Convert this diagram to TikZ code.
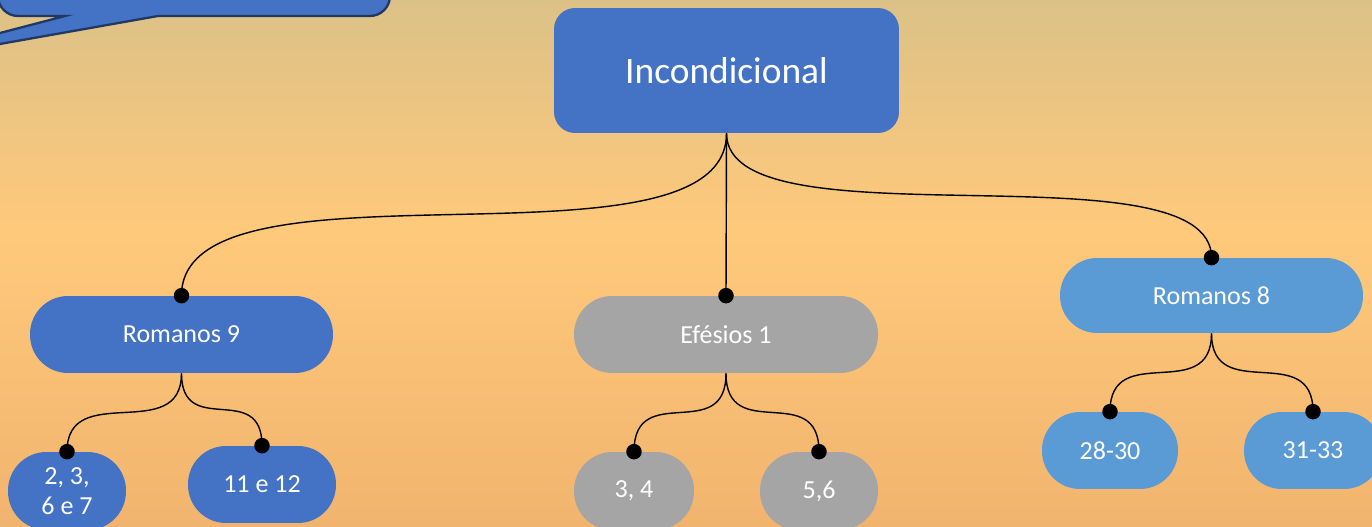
\documentclass[tikz,border=0pt]{standalone}
\usepackage{fontspec}
\setmainfont{Carlito}
\definecolor{bgtop}{HTML}{DCC187}
\definecolor{bgmid}{HTML}{FFC97B}
\definecolor{bgbot}{HTML}{F1B46E}
\definecolor{dblue}{HTML}{4472C4}
\definecolor{lblue}{HTML}{5B9BD5}
\definecolor{gbox}{HTML}{A5A5A5}
\definecolor{navy}{HTML}{1F3864}
\pgfdeclareverticalshading{bgshade}{100bp}{color(0bp)=(bgbot); color(25bp)=(bgbot); color(53bp)=(bgmid); color(75bp)=(bgtop); color(100bp)=(bgtop)}
\begin{document}
\begin{tikzpicture}[x=0.02cm,y=-0.02cm,
  pill/.style={text=white, inner sep=0pt, align=center, font=\fontsize{14.8}{17}\selectfont},
  conn/.style={draw=black, line width=0.8pt},
  dot/.style={fill=black}]
\useasboundingbox (0,0) rectangle (1372,527);
\shade[shading=bgshade] (0,0) rectangle (1372,527);
% callout
\draw[fill=dblue, draw=navy, line width=1.3pt, line join=miter]
  (-2,-60) -- (390,-60) -- (390,-4) .. controls (390,7) and (381,16) .. (370,16)
  -- (158,16) -- (-130,67) -- (65,16) -- (18,16) .. controls (7,16) and (-2,7) .. (-2,-4) -- cycle;
% nodes
\node[pill, fill=dblue, minimum width=6.9cm, minimum height=2.5cm, rounded corners=0.42cm,
      font=\fontsize{21.3}{25}\selectfont] (inc) at (726.5,70.5) {Incondicional};
\node[pill, fill=dblue, minimum width=6.06cm, minimum height=1.54cm, rounded corners=0.76cm] (r9) at (181.5,334.5) {Romanos 9};
\node[pill, fill=gbox, minimum width=6.08cm, minimum height=1.54cm, rounded corners=0.76cm] (ef) at (726,334.5) {Efésios 1};
\node[pill, fill=lblue, minimum width=6.06cm, minimum height=1.5cm, rounded corners=0.74cm] (r8) at (1211.5,295.5) {Romanos 8};
\node[pill, fill=dblue, minimum width=2.36cm, minimum height=1.56cm, rounded corners=0.77cm] (a1) at (67,491) {2, 3,\\6 e 7};
\node[pill, fill=dblue, minimum width=2.96cm, minimum height=1.54cm, rounded corners=0.76cm] (a2) at (262,484.5) {11 e 12};
\node[pill, fill=gbox, minimum width=2.4cm, minimum height=1.56cm, rounded corners=0.77cm] (b1) at (634,491) {3, 4};
\node[pill, fill=gbox, minimum width=2.36cm, minimum height=1.56cm, rounded corners=0.77cm] (b2) at (819,491) {5,6};
\node[pill, fill=lblue, minimum width=2.72cm, minimum height=1.54cm, rounded corners=0.76cm] (c1) at (1110,450.5) {28-30};
\node[pill, fill=lblue, minimum width=2.76cm, minimum height=1.54cm, rounded corners=0.76cm] (c2) at (1313,450.5) {31-33};
% connectors
\draw[conn] (inc.south) .. controls +(0,150) and +(0,-150) .. (r9.north);
\draw[conn] (inc.south) -- (ef.north);
\draw[conn] (inc.south) .. controls +(0,115) and +(0,-115) .. (r8.north);
\draw[conn] (r9.south) .. controls +(0,72) and +(0,-72) .. (a1.north);
\draw[conn] (r9.south) .. controls +(0,66) and +(0,-66) .. (a2.north);
\draw[conn] (ef.south) .. controls +(0,72) and +(0,-72) .. (b1.north);
\draw[conn] (ef.south) .. controls +(0,72) and +(0,-72) .. (b2.north);
\draw[conn] (r8.south) .. controls +(0,72) and +(0,-72) .. (c1.north);
\draw[conn] (r8.south) .. controls +(0,72) and +(0,-72) .. (c2.north);
% dots
\foreach \n in {r9,ef,r8,a1,a2,b1,b2,c1,c2}
  \fill[dot] (\n.north) circle[radius=0.155cm];
\end{tikzpicture}
\end{document}
